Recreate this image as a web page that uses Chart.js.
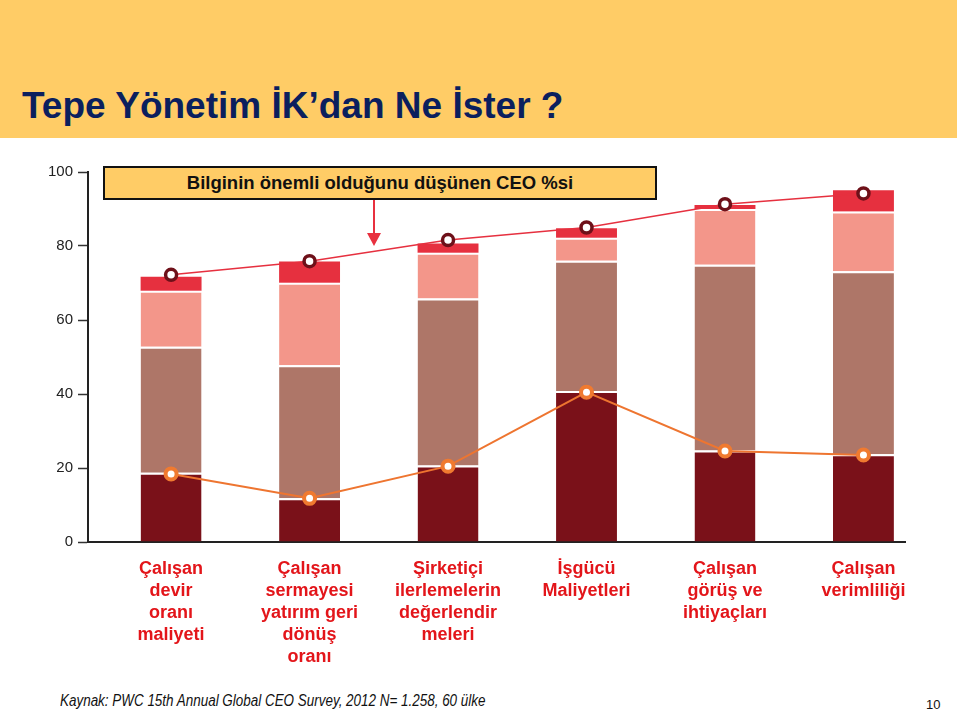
<!DOCTYPE html>
<html>
<head>
<meta charset="utf-8">
<script src="https://cdn.jsdelivr.net/npm/chart.js@4"></script>
<style>

body{
    margin:0;
    width:960px;
    height:712px;
    position:relative;
    overflow:hidden;
    background:#fff;
    font-family:"Liberation Sans", Arial, sans-serif;
}

#band{
    position:absolute;
    left:0;
    top:0;
    width:957px;
    height:138px;
    background:#FFCC66;
}

#title{
    position:absolute;
    left:22px;
    top:87px;
    font-size:37px;
    line-height:37px;
    font-weight:bold;
    color:#0B1F5E;
    white-space:nowrap;
}

#wrap{
    position:absolute;
    left:0;
    top:140px;
    width:960px;
    height:545px;
}

#note{
    position:absolute;
    left:103px;
    top:166px;
    width:554px;
    height:34px;
    box-sizing:border-box;
    border:2px solid #111;
    background:#FFCC66;
    text-align:center;
    font-size:18.5px;
    line-height:30px;
    font-weight:bold;
    color:#111;
    white-space:nowrap;
}

#arrowLine{
    position:absolute;
    left:373px;
    top:200px;
    width:2px;
    height:34px;
    background:#E8303F;
}

#arrowHead{
    position:absolute;
    left:367px;
    top:233px;
    width:0;
    height:0;
    border-left:7px solid transparent;
    border-right:7px solid transparent;
    border-top:13px solid #E8303F;
}

#source{
    position:absolute;
    left:60px;
    top:692px;
    font-size:16px;
    line-height:18px;
    font-style:italic;
    color:#111;
    white-space:nowrap;
    transform:scaleX(0.84);
    transform-origin:left center;
}

#page{
    position:absolute;
    left:926px;
    top:698px;
    font-size:13px;
    line-height:14px;
    color:#111;
}

</style>
</head>
<body>

<div id="band"></div>
<div id="title">Tepe Yönetim İK’dan Ne İster ?</div>

<div id="wrap"><canvas id="ceoChart"></canvas></div>

<div id="note">Bilginin önemli olduğunu düşünen CEO %si</div>
<div id="arrowLine"></div>
<div id="arrowHead"></div>

<div id="source">Kaynak: PWC 15th Annual Global CEO Survey, 2012 N= 1.258, 60 ülke</div>
<div id="page">10</div>

<script>

/* =====================================================
   DATA
===================================================== */

const categories = [
    ["Çalışan", "devir", "oranı", "maliyeti"],
    ["Çalışan", "sermayesi", "yatırım geri", "dönüş", "oranı"],
    ["Şirketiçi", "ilerlemelerin", "değerlendir", "meleri"],
    ["İşgücü", "Maliyetleri"],
    ["Çalışan", "görüş ve", "ihtiyaçları"],
    ["Çalışan", "verimliliği"]
];

const yTicks = [0, 20, 40, 60, 80, 100];

// stacked segments, bottom to top
const darkSeg   = [18.7, 11.8, 20.7, 40.8, 24.7, 23.7];
const brownSeg  = [34.1, 36.0, 45.1, 35.2, 50.2, 49.5];
const salmonSeg = [15.1, 22.3, 12.4,  6.2, 15.1, 16.1];
const redSeg    = [ 3.8,  5.7,  2.5,  2.6,  1.1,  5.8];

// CEO line (top) and the lower line
const ceoLine   = [72.2, 75.9, 81.6, 85.0, 91.3, 94.2];
const lowLine   = [18.4, 11.8, 20.5, 40.5, 24.6, 23.5];


/* =========================
   HELPERS
========================= */

function points(values){

    return values.map(
        (v, i) => ({ x:i, y:v })
    );

}

function barSet(values, color, border){

    return {
        type:"bar",
        data:points(values),
        backgroundColor:color,
        borderColor:"#ffffff",
        borderWidth:{ top:border, right:0, bottom:0, left:0 },
        borderSkipped:false,
        stack:"bars",
        order:2,
        categoryPercentage:1,
        barPercentage:0.44
    };

}


/* =========================
   CHART
========================= */

const canvas =
document.getElementById(
    "ceoChart"
);

new Chart(canvas,{

    type:"bar",

    data:{

        datasets:[

            barSet(darkSeg,   "#7A1119", 2),
            barSet(brownSeg,  "#AE7668", 2),
            barSet(salmonSeg, "#F3968A", 2),
            barSet(redSeg,    "#E6303F", 0),

            {
                type:"line",
                data:points(ceoLine),
                borderColor:"#E6303F",
                borderWidth:1.5,
                pointRadius:5.5,
                pointBorderWidth:3.5,
                pointBorderColor:"#6E1019",
                pointBackgroundColor:"#ffffff",
                tension:0,
                order:0
            },

            {
                type:"line",
                data:points(lowLine),
                borderColor:"#EE7530",
                borderWidth:2,
                pointRadius:5.5,
                pointBorderWidth:4,
                pointBorderColor:"#F07A30",
                pointBackgroundColor:"#ffffff",
                tension:0,
                order:1
            }

        ]

    },

    options:{

        responsive:true,

        maintainAspectRatio:false,

        animation:false,

        layout:{
            padding:{ top:32, right:55, bottom:0, left:0 }
        },

        plugins:{

            legend:{ display:false },

            tooltip:{ enabled:false }

        },

        scales:{

            x:{

                type:"linear",

                offset:false,

                min:-0.6,

                max:5.3,

                bounds:"data",

                afterBuildTicks:scale => {
                    scale.ticks = categories.map(
                        (c, i) => ({ value:i })
                    );
                },

                afterFit:scale => {
                    scale.height = 143;
                },

                grid:{
                    display:false,
                    offset:false
                },

                border:{
                    display:true,
                    color:"#222",
                    width:2
                },

                ticks:{
                    autoSkip:false,
                    maxRotation:0,
                    padding:8,
                    color:"#E3151A",
                    font:{
                        family:"Liberation Sans",
                        size:18,
                        weight:"bold",
                        lineHeight:1.22
                    },
                    callback:value =>
                    categories[value]
                }

            },

            y:{

                min:0,

                max:100,

                afterBuildTicks:scale => {
                    scale.ticks = yTicks.map(
                        v => ({ value:v })
                    );
                },

                afterFit:scale => {
                    scale.width = 88;
                },

                grid:{
                    drawOnChartArea:false,
                    drawTicks:true,
                    tickLength:10,
                    tickWidth:1.5,
                    tickColor:"#333"
                },

                border:{
                    display:true,
                    color:"#222",
                    width:2
                },

                ticks:{
                    padding:5,
                    color:"#222",
                    font:{
                        family:"Liberation Sans",
                        size:15
                    }
                }

            }

        }

    }

});

</script>
</body>
</html>
